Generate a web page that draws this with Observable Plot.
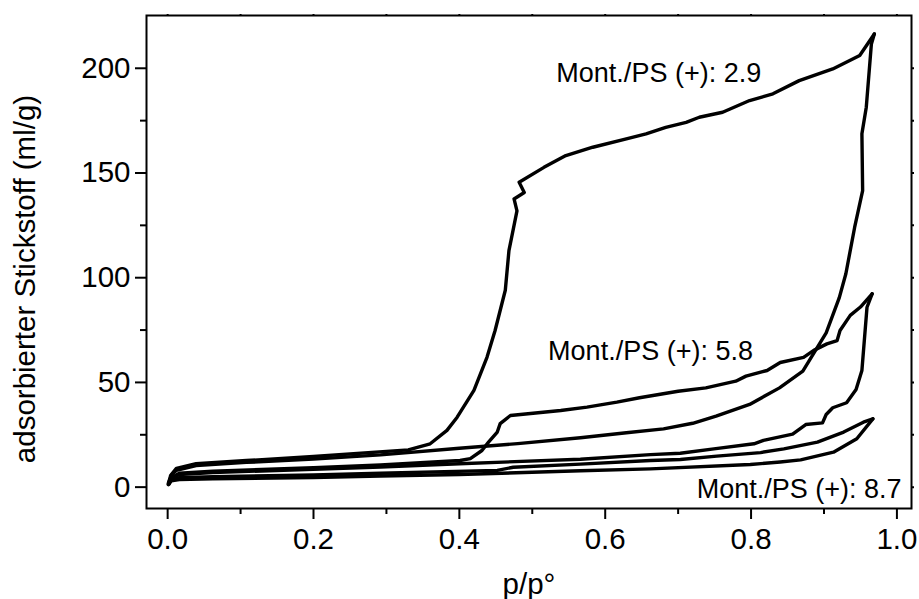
<!DOCTYPE html>
<html>
<head>
<meta charset="utf-8">
<script src="https://cdn.jsdelivr.net/npm/d3@7"></script>
<script src="https://cdn.jsdelivr.net/npm/@observablehq/plot@0.6"></script>
<style>
  html, body { margin: 0; padding: 0; background: #fff; }
  #chart svg { display: block; }
</style>
</head>
<body>
<div id="chart"></div>
<script>
// ---- Data ----
// Mont./PS (+): 2.9 — adsorption branch
const s29AdsP = [0.002,0.006,0.012,0.039,0.108,0.2,0.292,0.4,0.48,0.566,0.629,0.68,0.72,0.752,0.798,0.839,0.871,0.903,0.921,0.93,0.942,0.953,0.952,0.958,0.965,0.969];
const s29AdsV = [2,6,8,10.3,11.8,13.4,15.4,18.6,20.8,23.6,26,27.8,30.5,33.9,39.5,47.4,55.4,73.7,90.5,101.9,124,141.6,168.7,181.4,211.6,216.4];
// Mont./PS (+): 2.9 — desorption branch
const s29DesP = [0.969,0.949,0.912,0.866,0.83,0.798,0.761,0.729,0.711,0.683,0.656,0.629,0.583,0.546,0.516,0.482,0.489,0.475,0.479,0.468,0.463,0.449,0.438,0.42,0.397,0.383,0.36,0.33,0.2,0.108,0.039,0.012,0.004,0.002];
const s29DesV = [216.4,206.1,199.7,194.1,187.8,184.6,179,176.6,174.2,171.8,168.7,166.3,162.3,158.3,152.7,145.6,140.7,137.6,131.9,112.9,94,74.8,62.1,46.2,33.4,27.1,20.7,17.8,14.6,12.7,11.2,9,5.5,2.5];
// Mont./PS (+): 5.8 — adsorption branch
const s58AdsP = [0.002,0.005,0.016,0.062,0.2,0.292,0.4,0.566,0.662,0.703,0.749,0.804,0.817,0.857,0.875,0.898,0.903,0.912,0.931,0.944,0.952,0.959,0.966];
const s58AdsV = [1.5,4.5,6,7,8.5,9.6,11.2,13.3,15.5,16.2,18.3,20.7,22.3,25.3,29.9,30.7,34.7,37.9,40.3,46.6,55.7,85.9,92.3];
// Mont./PS (+): 5.8 — desorption branch
const s58DesP = [0.966,0.95,0.936,0.922,0.918,0.904,0.886,0.872,0.84,0.822,0.793,0.779,0.738,0.7,0.647,0.616,0.575,0.539,0.47,0.456,0.452,0.44,0.431,0.415,0.401,0.292,0.2,0.062,0.016,0.003,0.001];
const s58DesV = [92.3,86,82,74.8,70,68.4,65.3,62,59.5,55.7,53,50.6,47.4,45.8,42.7,40.6,38.2,36.6,34.2,30.3,26.3,21.5,17.5,13.6,12.7,10.6,9.3,7.6,6.6,4,2];
// Mont./PS (+): 8.7 — adsorption branch
const s87AdsP = [0.001,0.005,0.016,0.062,0.2,0.292,0.4,0.566,0.662,0.799,0.84,0.868,0.913,0.945,0.967];
const s87AdsV = [1.2,3,3.6,4,4.6,5.3,6,7.8,8.7,10.8,12,13,16.7,23.1,32.6];
// Mont./PS (+): 8.7 — desorption branch
const s87DesP = [0.967,0.954,0.927,0.891,0.845,0.813,0.753,0.703,0.662,0.566,0.474,0.452,0.292,0.2,0.062,0.016,0.003,0.001];
const s87DesV = [32.6,31,26.3,21.5,18.3,16.5,14.8,13.2,12.7,11,9.5,8,6.6,5.8,5,4.5,3,1.5];

// Annotations
const labelText = ["Mont./PS (+): 2.9", "Mont./PS (+): 5.8", "Mont./PS (+): 8.7"];
const labelP = [0.533, 0.5217, 0.7255];
const labelV = [193.3, 60.9, -5.06];

// Axis ticks
const xTicks = [0, 0.2, 0.4, 0.6, 0.8, 1.0];
const xMinorTicks = [0.1, 0.3, 0.5, 0.7, 0.9];
const yTicks = [0, 50, 100, 150, 200];
const yMinorTicks = [25, 75, 125, 175];
const xLabel = "p/p°";
const yLabel = "adsorbierter Stickstoff (ml/g)";

// ---- Build table ----
const branches = [
  ["2.9 ads", s29AdsP, s29AdsV],
  ["2.9 des", s29DesP, s29DesV],
  ["5.8 ads", s58AdsP, s58AdsV],
  ["5.8 des", s58DesP, s58DesV],
  ["8.7 ads", s87AdsP, s87AdsV],
  ["8.7 des", s87DesP, s87DesV]
];
const rows = [];
for (const [name, P, V] of branches) {
  P.forEach((p, i) => rows.push({branch: name, p, v: V[i]}));
}
const labels = labelText.map((t, i) => ({t, p: labelP[i], v: labelV[i]}));

const FONT = "'Liberation Sans', Arial, Helvetica, sans-serif";

const chart = Plot.plot({
  width: 919,
  height: 599,
  marginLeft: 146,
  marginRight: 8,
  marginTop: 15,
  marginBottom: 91,
  x: {domain: [-0.029, 1.02]},
  y: {domain: [-10.2, 225.2]},
  style: {fontFamily: FONT, background: "white", color: "black", overflow: "visible"},
  marks: [
    Plot.frame({stroke: "black", strokeWidth: 2}),
    // bottom axis
    Plot.axisX({ticks: xTicks, tickFormat: d => d.toFixed(1), tickSize: 11, tickPadding: 9, fontSize: 29.5, strokeWidth: 2, label: null}),
    Plot.axisX({ticks: xMinorTicks, tickFormat: () => "", tickSize: 6, strokeWidth: 2, label: null}),
    // top tiny ticks
    Plot.axisX({anchor: "top", ticks: xTicks.concat(xMinorTicks), tickFormat: () => "", tickSize: 2, strokeWidth: 2, label: null}),
    // left axis
    Plot.axisY({ticks: yTicks, tickSize: 11, tickPadding: 5, fontSize: 29.5, strokeWidth: 2, label: null}),
    Plot.axisY({ticks: yMinorTicks, tickFormat: () => "", tickSize: 6, strokeWidth: 2, label: null}),
    // right tiny ticks
    Plot.axisY({anchor: "right", ticks: yTicks.concat(yMinorTicks), tickFormat: () => "", tickSize: 2, strokeWidth: 2, label: null}),
    // curves
    Plot.line(rows, {x: "p", y: "v", z: "branch", stroke: "black", strokeWidth: 3.4, strokeLinejoin: "round", curve: "linear"}),
    // annotations
    Plot.text(labels, {x: "p", y: "v", text: "t", textAnchor: "start", lineAnchor: "bottom", fontSize: 27, fill: "black"}),
    // axis titles
    Plot.text([xLabel], {frameAnchor: "bottom", text: d => d, textAnchor: "middle", lineAnchor: "bottom", dy: 85, fontSize: 29.5, fill: "black"}),
    Plot.text([yLabel], {frameAnchor: "left", text: d => d, textAnchor: "middle", rotate: -90, lineAnchor: "bottom", dx: -112, dy: 17, fontSize: 29.5, fill: "black"})
  ]
});
document.getElementById("chart").appendChild(chart);
</script>
</body>
</html>
